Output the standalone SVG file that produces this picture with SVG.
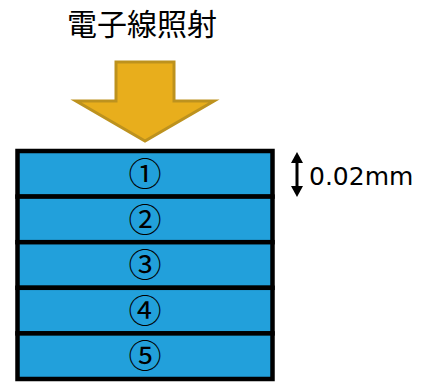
<svg xmlns="http://www.w3.org/2000/svg" width="423" height="382" viewBox="0 0 423 382">
<style>
.layer{fill:#22A0DB;stroke:#000;stroke-width:4.5}
.num{font-family:"Noto Sans CJK JP","Noto Sans",sans-serif;font-size:33px;fill:#000;text-anchor:middle}
.title{font-family:"Noto Sans CJK JP",sans-serif;font-size:30px;fill:#000;text-anchor:middle}
.dim{font-family:"DejaVu Sans",sans-serif;font-size:25px;fill:#000}
</style>
<rect width="423" height="382" fill="#fff"/>
<g id="title"><text class="title" x="142" y="35">電子線照射</text></g>
<g id="beam-arrow"><polygon points="116,62 174,62 174,101 214,101 145,141 76,101 116,101" fill="#E8AE1C" stroke="#BD921E" stroke-width="3" stroke-linejoin="miter"/></g>
<g id="layer1"><rect class="layer" x="17.5" y="151" width="255" height="45.6"/><text class="num" x="145" y="186">①</text></g>
<g id="layer2"><rect class="layer" x="17.5" y="196.6" width="255" height="45.6"/><text class="num" x="145" y="231.5">②</text></g>
<g id="layer3"><rect class="layer" x="17.5" y="242.2" width="255" height="45.6"/><text class="num" x="145" y="277">③</text></g>
<g id="layer4"><rect class="layer" x="17.5" y="287.8" width="255" height="45.6"/><text class="num" x="145" y="322.5">④</text></g>
<g id="layer5"><rect class="layer" x="17.5" y="333.4" width="255" height="45.6"/><text class="num" x="145" y="368">⑤</text></g>
<g id="connectors">
<line x1="297" y1="160" x2="297" y2="189" stroke="#000" stroke-width="3"/>
<polygon points="297,152 303,163 291,163" fill="#000"/>
<polygon points="297,197 303,186 291,186" fill="#000"/>
</g>
<g id="dimension"><text class="dim" x="309" y="185">0.02mm</text></g>
</svg>
